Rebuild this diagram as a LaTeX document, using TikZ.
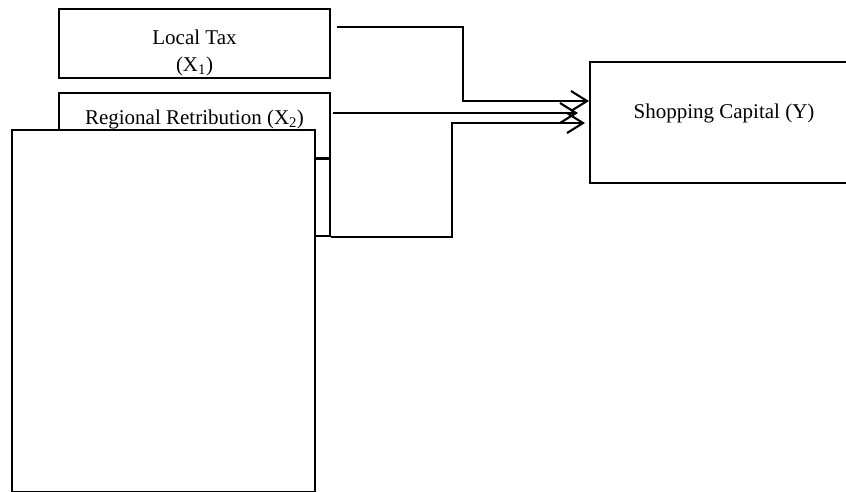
\documentclass[tikz,border=0pt]{standalone}
\usepackage{fontspec}
\setmainfont{Liberation Serif}
\usetikzlibrary{arrows.meta,calc}
\tikzset{varbox/.style={draw,minimum width=271pt,inner sep=0pt}}
\begin{document}
\begin{tikzpicture}[x=1pt,y=-1pt,line width=2.1pt,every node/.style={font=\fontsize{21}{27}\selectfont},>={Straight Barb[length=16pt,width=20pt]}]
\clip (0,0) rectangle (846,491);
\node[varbox,anchor=north,align=center,text height=62pt,text depth=7pt] (tax) at (194.5,8) {Local Tax\\(X\textsubscript{1})};
\node[varbox,anchor=north,text height=31pt,text depth=35pt] (retr) at (194.5,92) {Regional Retribution (X\textsubscript{2})};
\node[varbox,minimum height=78pt] (var3) at (194.5,197) {};
\node[draw,fill=white,minimum width=303pt,minimum height=362pt,inner sep=0pt] (cover) at (163.5,311) {};
\node[draw,anchor=north west,minimum width=268pt,text height=56pt,text depth=65pt,inner sep=0pt] (cap) at (589,61) {Shopping Capital (Y)};
\coordinate (taxout) at (337,27);
\coordinate (retrout) at (333,113);
\draw[->] (taxout) -| (463,101) -- ($(cap.north west)+(0,40)$);
\draw[->] (retrout) -- ($(cap.north west)+(-11,52)$);
\draw[->] (var3.south east) -| (452,123) -- ($(cap.north west)+(-4,62)$);
\end{tikzpicture}
\end{document}
